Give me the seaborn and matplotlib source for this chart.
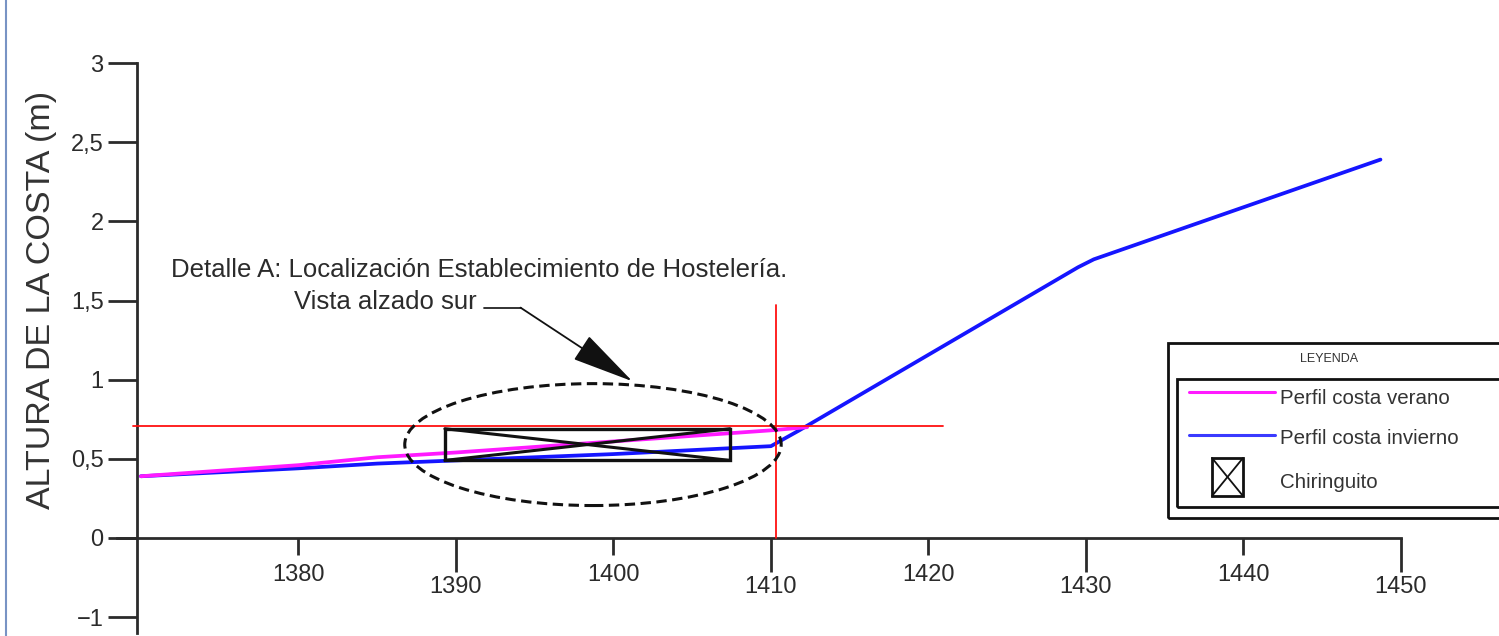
import numpy as np
import pandas as pd
import seaborn as sns
import matplotlib.pyplot as plt
from matplotlib.patches import Ellipse, Rectangle
from matplotlib.lines import Line2D

# perfil de costa (distancia, altura)
x_verano = [1370, 1380, 1385, 1390, 1400, 1410, 1412.3]
y_verano = [0.39, 0.46, 0.51, 0.54, 0.61, 0.68, 0.70]
x_invierno = [1370, 1380, 1385, 1390, 1400, 1410, 1411.8, 1429.5, 1430.5, 1448.7]
y_invierno = [0.39, 0.44, 0.47, 0.49, 0.53, 0.58, 0.68, 1.71, 1.76, 2.39]

# referencias
ref_h = 0.71
ref_h_x = [1369.5, 1420.9]
ref_v = 1410.3
ref_v_y = [0.0, 1.47]

# chiringuito y detalle
chir_x = [1389.3, 1407.4]
chir_y = [0.49, 0.69]
det_centro = (1398.7, 0.59)
det_ancho, det_alto = 23.9, 0.77

x_ticks_largos = [1390, 1410, 1430, 1450]
x_ticks_cortos = [1380, 1400, 1420, 1440]
# el "-1" del original esta dibujado media unidad bajo el cero
y_ticks = [-0.5, 0, 0.5, 1, 1.5, 2, 2.5, 3]
y_labels = ['\u22121', '0', '0,5', '1', '1,5', '2', '2,5', '3']

sns.set_style('ticks')
plt.rcParams['font.family'] = ['Liberation Sans', 'DejaVu Sans']
gris = '#2b2b2b'

W, H = 1499, 636
PX_Y = (538 - 63) / 3
fig = plt.figure(figsize=(W / 100, H / 100), dpi=100)
ax = fig.add_axes([137 / W, 0, 1 - 137 / W, 1])
ax.set_xlim(1369.75, 1369.75 + (W - 137) / 15.75)
ax.set_ylim(-(H - 538) / PX_Y, 538 / PX_Y)

df_v = pd.DataFrame({'x': x_verano, 'y': y_verano})
df_i = pd.DataFrame({'x': x_invierno, 'y': y_invierno})
sns.lineplot(data=df_i, x='x', y='y', ax=ax, color='#1515ff', lw=2.7, sort=False, zorder=3)
sns.lineplot(data=df_v, x='x', y='y', ax=ax, color='#ff1aff', lw=2.7, sort=False, zorder=4)

ax.plot(ref_h_x, [ref_h, ref_h], color='#ff1010', lw=1.3, zorder=5, clip_on=False)
ax.plot([ref_v, ref_v], ref_v_y, color='#ff1010', lw=1.3, zorder=5)

# chiringuito
cx0, cx1 = chir_x
cy0, cy1 = chir_y
ax.add_patch(Rectangle((cx0, cy0), cx1 - cx0, cy1 - cy0, fill=False, ec='#111111', lw=2.4, zorder=6))
ax.plot([cx0, cx1], [cy1, cy0], color='#111111', lw=2.2, zorder=6)
ax.plot([cx0, cx1], [cy0, cy1], color='#111111', lw=2.2, zorder=6)
ax.add_patch(Ellipse(det_centro, det_ancho, det_alto, fill=False, ec='#111111',
                     lw=2.2, ls=(0, (3.4, 1.8)), zorder=6))

# anotacion
ax.text(1391.5, 1.69, 'Detalle A: Localización Establecimiento de Hostelería.',
        ha='center', va='center', fontsize=18.5, color=gris)
ax.text(1391.3, 1.49, 'Vista alzado sur', ha='right', va='center', fontsize=18.5, color=gris)
ax.plot([1391.8, 1394.1], [1.455, 1.455], color='#222222', lw=1.3)
ax.annotate('', xy=(1401.2, 0.99), xytext=(1394.1, 1.455),
            arrowprops=dict(arrowstyle='-|>,head_length=2.0,head_width=0.45',
                            mutation_scale=20, lw=1.3, color='#111111',
                            shrinkA=0, shrinkB=0))

# ejes
for s in ['top', 'right']:
    ax.spines[s].set_visible(False)
ax.spines['bottom'].set_position(('data', 0))
ax.spines['bottom'].set_bounds(1368.5, 1450)
ax.spines['left'].set_bounds(-0.6, 3)
for s in ['bottom', 'left']:
    ax.spines[s].set_linewidth(2.0)
    ax.spines[s].set_color(gris)

ax.set_xticks(x_ticks_largos)
ax.set_xticks(x_ticks_cortos, minor=True)
ax.set_xticklabels([str(t) for t in x_ticks_largos])
ax.set_xticklabels([str(t) for t in x_ticks_cortos], minor=True)
ax.tick_params(axis='x', which='major', length=24.5, width=2.0, pad=3, labelsize=17,
               colors=gris, direction='out')
ax.tick_params(axis='x', which='minor', length=12, width=2.0, pad=7, labelsize=17,
               colors=gris, direction='out')
ax.set_yticks(y_ticks)
ax.set_yticklabels(y_labels)
ax.tick_params(axis='y', length=21, width=2.0, pad=3, labelsize=17, colors=gris)
ax.set_xlabel('')
ax.set_ylabel('ALTURA DE LA COSTA (m)', fontsize=24.5, color='#333333')
ax.yaxis.set_label_coords(-0.059, 1 - 300 / H)


# leyenda dibujada
def fx(px):
    return px / W


def fy(py):
    return 1 - py / H


tf = fig.transFigure
fig.patches.append(Rectangle((fx(1168), fy(518)), fx(1520) - fx(1168), fy(343) - fy(518),
                             transform=tf, fill=False, ec='#111111', lw=2.0))
fig.patches.append(Rectangle((fx(1177), fy(507)), fx(1520) - fx(1177), fy(379) - fy(507),
                             transform=tf, fill=False, ec='#111111', lw=2.0))
fig.text(fx(1329), fy(359), 'LEYENDA', ha='center', va='center', fontsize=9, color='#333333')
fig.lines.append(Line2D([fx(1189), fx(1275)], [fy(392), fy(392)], transform=tf, color='#ff1aff', lw=2.2))
fig.lines.append(Line2D([fx(1189), fx(1275)], [fy(435), fy(435)], transform=tf, color='#3a3aff', lw=2.2))
fig.text(fx(1280), fy(398), 'Perfil costa verano', va='center', fontsize=14.8, color='#333333')
fig.text(fx(1280), fy(439), 'Perfil costa invierno', va='center', fontsize=14.8, color='#333333')
fig.text(fx(1280), fy(482), 'Chiringuito', va='center', fontsize=14.8, color='#333333')
fig.patches.append(Rectangle((fx(1212), fy(496)), fx(1243) - fx(1212), fy(458) - fy(496),
                             transform=tf, fill=False, ec='#111111', lw=2.0))
fig.lines.append(Line2D([fx(1212), fx(1243)], [fy(458), fy(496)], transform=tf, color='#111111', lw=1.3))
fig.lines.append(Line2D([fx(1212), fx(1243)], [fy(496), fy(458)], transform=tf, color='#111111', lw=1.3))

# borde del documento
fig.lines.append(Line2D([fx(6), fx(6)], [0, 1], transform=tf, color='#7893c4', lw=1.5))

fig.savefig('out.png', dpi=100)
